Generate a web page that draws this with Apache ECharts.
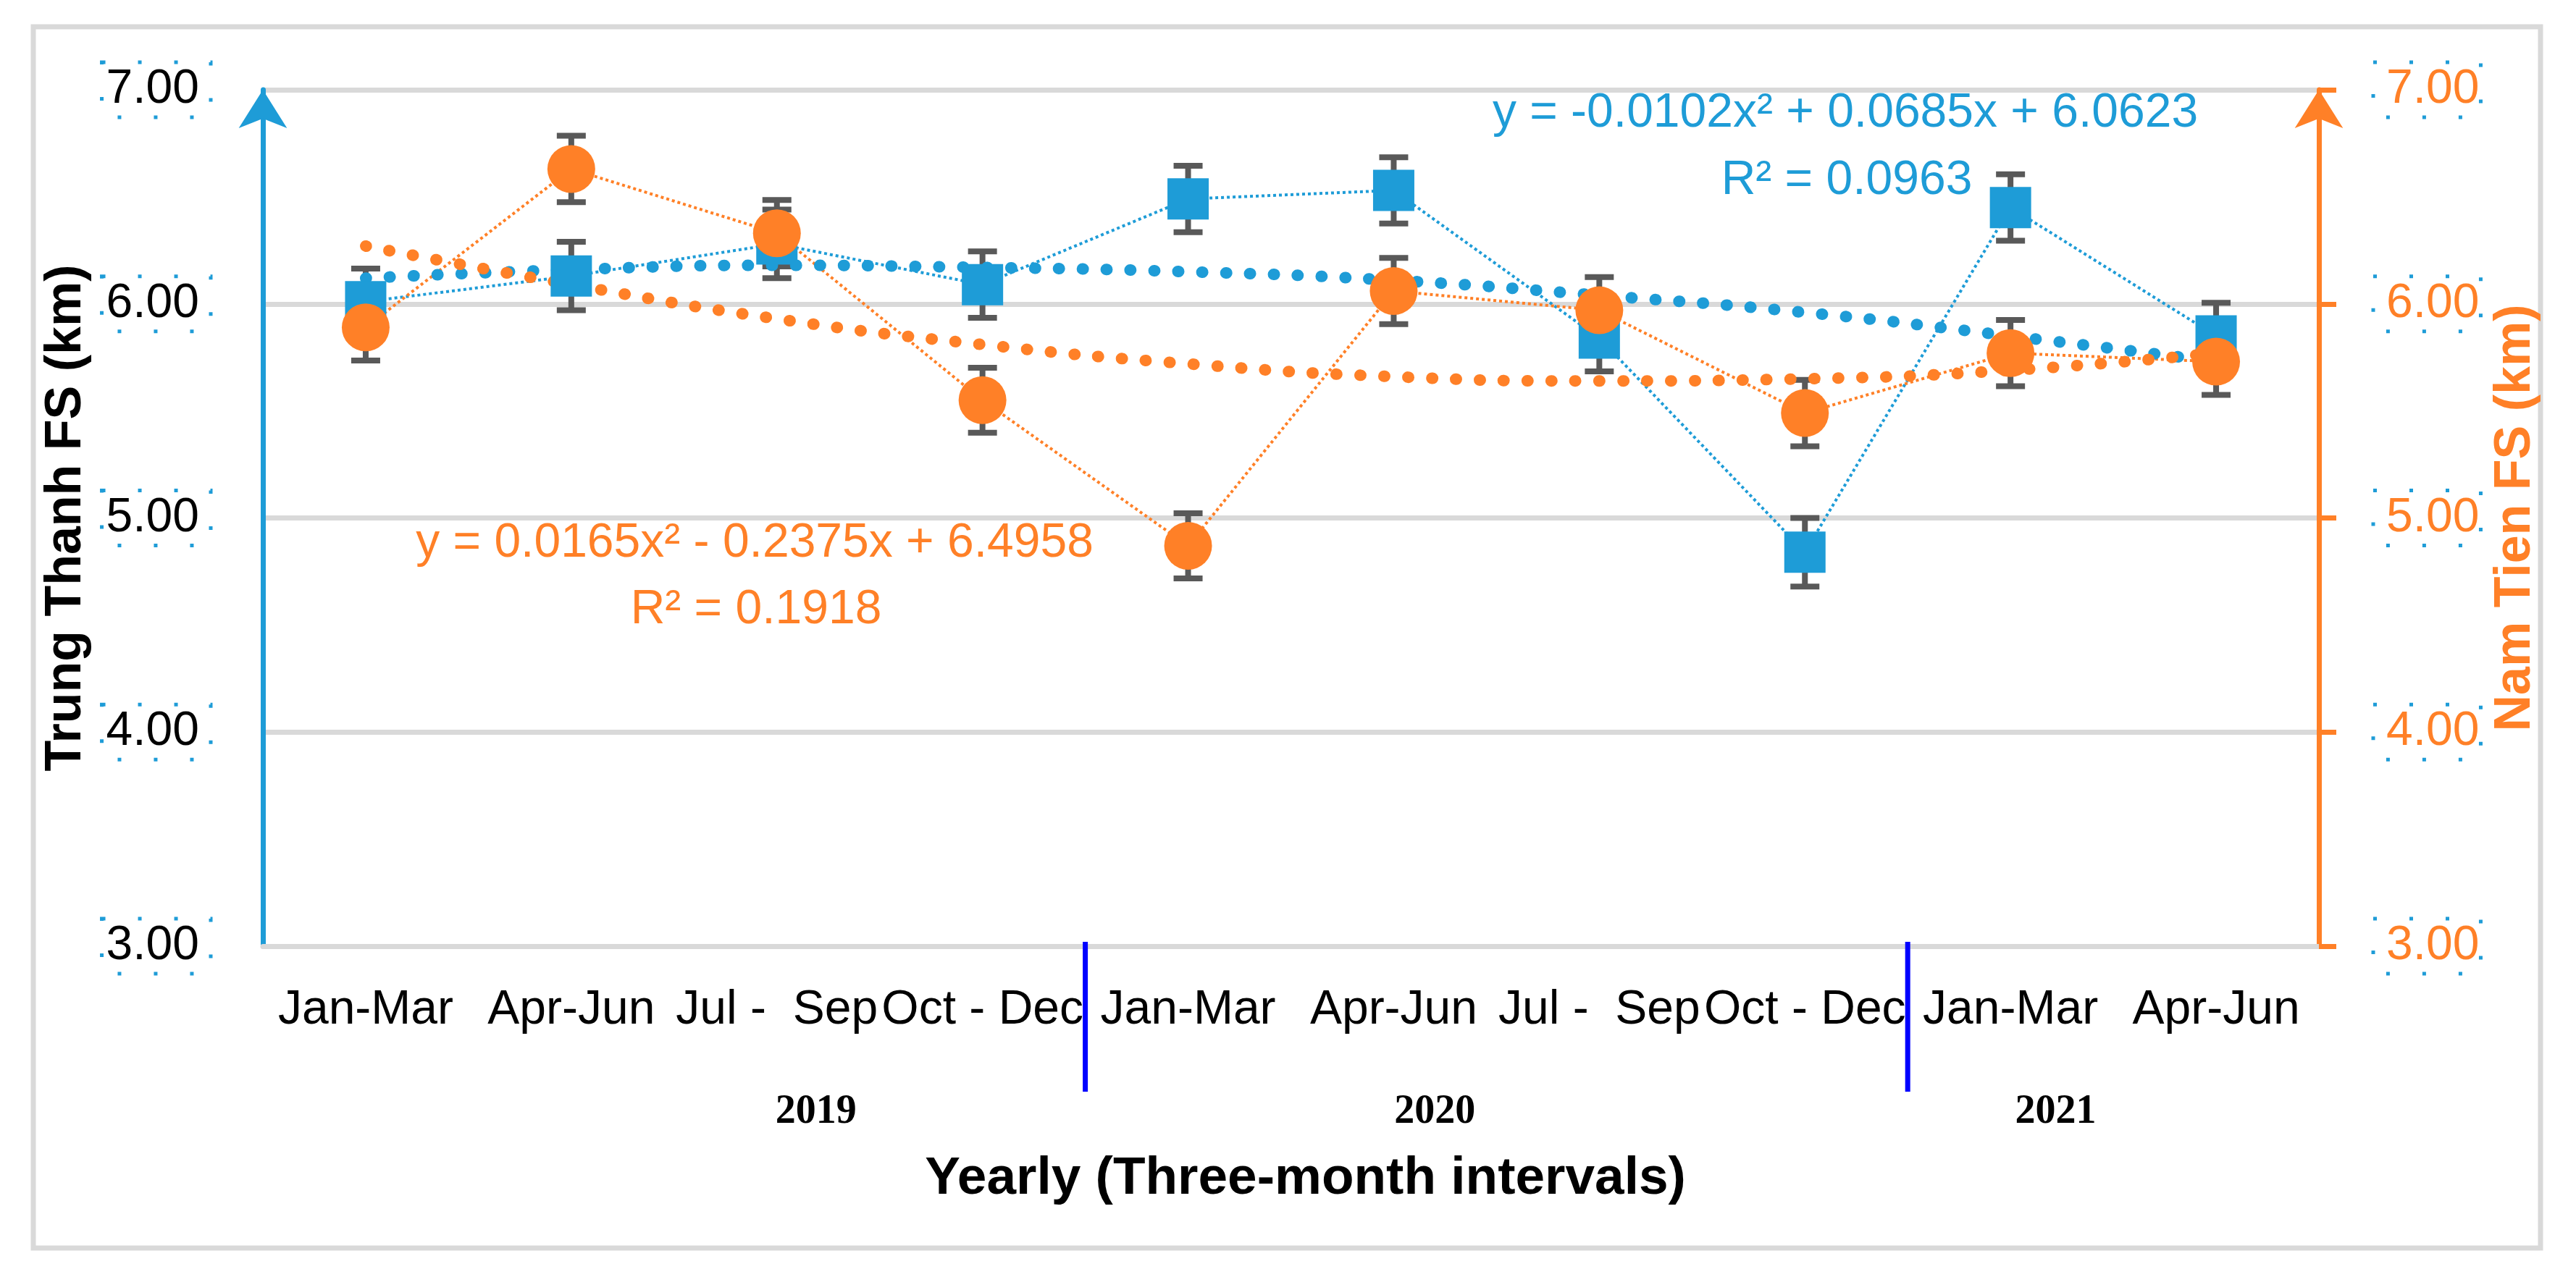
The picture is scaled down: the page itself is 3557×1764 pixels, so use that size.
<!DOCTYPE html>
<html><head><meta charset="utf-8">
<script src="https://cdn.jsdelivr.net/npm/echarts@6/dist/echarts.min.js"></script>
<style>html,body{margin:0;padding:0;background:#fff;}#c{width:3557px;height:1764px;}</style>
</head><body><div id="c"></div>
<script>
// ---------- data ----------
const categories = ['Jan-Mar', 'Apr-Jun', 'Jul -  Sep', 'Oct - Dec', 'Jan-Mar', 'Apr-Jun', 'Jul -  Sep', 'Oct - Dec', 'Jan-Mar', 'Apr-Jun'];
const years = ['2019', '2020', '2021'];
const trungThanh = [6.01, 6.13, 6.28, 6.09, 6.49, 6.53, 5.84, 4.84, 6.45, 5.85];
const trungThanhErr = [0.155, 0.16, 0.16, 0.155, 0.155, 0.155, 0.155, 0.16, 0.155, 0.155];
const namTien = [5.89, 6.63, 6.33, 5.55, 4.87, 6.06, 5.97, 5.49, 5.77, 5.73];
const namTienErr = [0.155, 0.155, 0.155, 0.152, 0.152, 0.155, 0.155, 0.155, 0.155, 0.155];
const trungThanhTrend = [6.12, 6.16, 6.18, 6.17, 6.15, 6.11, 6.04, 5.96, 5.85, 5.73];
const namTienTrend = [6.27, 6.09, 5.93, 5.81, 5.72, 5.66, 5.64, 5.65, 5.69, 5.77];
const yTicks = [3, 4, 5, 6, 7];
const blueEq = ['y = -0.0102x² + 0.0685x + 6.0623', 'R² = 0.0963'];
const orangeEq = ['y = 0.0165x² - 0.2375x + 6.4958', 'R² = 0.1918'];

// ---------- layout / style ----------
const BLUE = '#1E9CD7', ORANGE = '#FF8027', GREY = '#D9D9D9', ERR = '#595959';
const FONT = '"Liberation Sans", Arial, sans-serif';
const yearPos = [2.19, 5.2, 8.22];
const separatorPos = [3.5, 7.5];

const chart = echarts.init(document.getElementById('c'), null, {renderer: 'canvas'});

function errItem(params, api) {
  const x = api.value(0), v = api.value(1), e = api.value(2);
  const t = api.coord([x, v + e]), b = api.coord([x, v - e]);
  const hw = 20, st = {stroke: ERR, lineWidth: 8};
  return {type: 'group', children: [
    {type: 'line', shape: {x1: t[0], y1: t[1], x2: b[0], y2: b[1]}, style: st},
    {type: 'line', shape: {x1: t[0] - hw, y1: t[1], x2: t[0] + hw, y2: t[1]}, style: st},
    {type: 'line', shape: {x1: b[0] - hw, y1: b[1], x2: b[0] + hw, y2: b[1]}, style: st}
  ]};
}

const labelBox = (pad) => ({
  borderColor: BLUE, borderWidth: 5, borderType: [5, 45], padding: pad
});

const option = {
  animation: false,
  backgroundColor: '#fff',
  grid: {left: 363, right: 355, top: 124, bottom: 457},
  xAxis: [
    {
      type: 'category', data: categories, boundaryGap: true,
      axisLine: {show: true, onZero: false, lineStyle: {color: GREY, width: 7}},
      axisTick: {show: false},
      axisLabel: {interval: 0, color: '#000', fontSize: 66, fontFamily: FONT, margin: 56},
      splitLine: {show: false},
      name: 'Yearly (Three-month intervals)', nameLocation: 'middle', nameGap: 285,
      nameTextStyle: {fontSize: 73, fontWeight: 'bold', color: '#000', fontFamily: FONT, padding: [0, 0, 0, 40]}
    },
    {type: 'value', min: -0.5, max: 9.5, show: false}
  ],
  yAxis: [
    {
      type: 'value', min: yTicks[0], max: yTicks[yTicks.length - 1], interval: 1, position: 'left',
      axisLine: {show: true, onZero: false, lineStyle: {color: BLUE, width: 7}, symbol: ['none', 'arrow'], symbolSize: [50, 53], symbolOffset: [0, 0]},
      axisTick: {show: false},
      splitLine: {show: true, lineStyle: {color: GREY, width: 7}},
      axisLabel: Object.assign({formatter: v => v.toFixed(2), color: '#000', fontSize: 66, fontFamily: FONT, margin: 72}, labelBox([0, 16, 10, 6])),
      name: 'Trung Thanh FS (km)', nameLocation: 'middle', nameGap: 208,
      nameTextStyle: {fontSize: 70, fontWeight: 'bold', color: '#000', fontFamily: FONT}
    },
    {
      type: 'value', min: yTicks[0], max: yTicks[yTicks.length - 1], interval: 1, position: 'right',
      axisLine: {show: true, onZero: false, lineStyle: {color: ORANGE, width: 7}, symbol: ['none', 'arrow'], symbolSize: [50, 53], symbolOffset: [0, 0]},
      axisTick: {show: true, inside: false, length: 24, lineStyle: {color: ORANGE, width: 7}},
      splitLine: {show: false},
      axisLabel: Object.assign({formatter: v => v.toFixed(2), color: ORANGE, fontSize: 66, fontFamily: FONT, margin: 75}, labelBox([0, 2, 10, 18])),
      name: 'Nam Tien FS (km)', nameLocation: 'middle', nameGap: 205,
      nameTextStyle: {fontSize: 70, fontWeight: 'bold', color: ORANGE, fontFamily: FONT}
    }
  ],
  series: [
    {
      type: 'custom', name: 'ttErr', xAxisIndex: 0, yAxisIndex: 0, clip: false,
      data: trungThanh.map((v, i) => [i, v, trungThanhErr[i]]), renderItem: errItem
    },
    {
      type: 'line', name: 'Trung Thanh', xAxisIndex: 0, yAxisIndex: 0, data: trungThanh,
      symbol: 'rect', symbolSize: 57, itemStyle: {color: BLUE},
      lineStyle: {color: BLUE, width: 4, type: [4, 4]}
    },
    {
      type: 'custom', name: 'ntErr', xAxisIndex: 0, yAxisIndex: 1, clip: false,
      data: namTien.map((v, i) => [i, v, namTienErr[i]]), renderItem: errItem
    },
    {
      type: 'line', name: 'Nam Tien', xAxisIndex: 0, yAxisIndex: 1, data: namTien,
      symbol: 'circle', symbolSize: 66, itemStyle: {color: ORANGE},
      lineStyle: {color: ORANGE, width: 4, type: [4, 4]}
    },
    {
      type: 'line', name: 'ttTrend', xAxisIndex: 0, yAxisIndex: 0, data: trungThanhTrend,
      smooth: true, symbol: 'none',
      lineStyle: {color: BLUE, width: 16, type: [1, 32], cap: 'round'}
    },
    {
      type: 'line', name: 'ntTrend', xAxisIndex: 0, yAxisIndex: 1, data: namTienTrend,
      smooth: true, symbol: 'none',
      lineStyle: {color: ORANGE, width: 16, type: [1, 32], cap: 'round'}
    },
    {
      type: 'custom', name: 'separators', xAxisIndex: 1, yAxisIndex: 0, clip: false,
      data: separatorPos.map(p => [p, yTicks[0]]),
      renderItem: (params, api) => {
        const p = api.coord([api.value(0), api.value(1)]);
        return {type: 'line', shape: {x1: p[0], y1: p[1] - 6, x2: p[0], y2: p[1] + 201}, style: {stroke: '#0000FF', lineWidth: 7}};
      }
    },
    {
      type: 'custom', name: 'years', xAxisIndex: 1, yAxisIndex: 0, clip: false,
      data: years.map((y, i) => [yearPos[i], yTicks[0]]),
      renderItem: (params, api) => {
        const p = api.coord([api.value(0), api.value(1)]);
        return {type: 'text', x: p[0], y: p[1] + 230, style: {text: years[params.dataIndex], font: 'bold 56px "Liberation Serif", "Times New Roman", serif', fill: '#000', align: 'center', verticalAlign: 'middle'}};
      }
    }
  ],
  graphic: [
    {type: 'rect', silent: true, z: -10, shape: {x: 46, y: 37, width: 3462, height: 1687}, style: {fill: 'none', stroke: GREY, lineWidth: 7}},
    {type: 'text', x: 2548, y: 157, style: {text: blueEq[0], font: '66px ' + FONT, fill: BLUE, align: 'center', verticalAlign: 'middle'}},
    {type: 'text', x: 2550, y: 250, style: {text: blueEq[1], font: '66px ' + FONT, fill: BLUE, align: 'center', verticalAlign: 'middle'}},
    {type: 'text', x: 1042, y: 751, style: {text: orangeEq[0], font: '66px ' + FONT, fill: ORANGE, align: 'center', verticalAlign: 'middle'}},
    {type: 'text', x: 1044, y: 843, style: {text: orangeEq[1], font: '66px ' + FONT, fill: ORANGE, align: 'center', verticalAlign: 'middle'}}
  ]
};
chart.setOption(option);
</script>
</body></html>
